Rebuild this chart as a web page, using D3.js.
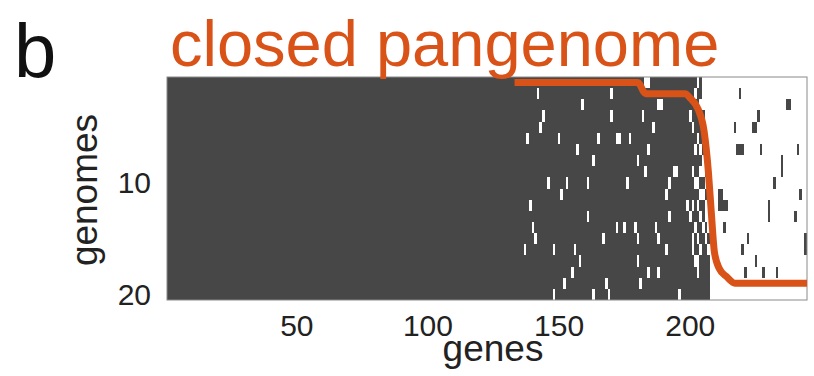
<!DOCTYPE html>
<html>
<head>
<meta charset="utf-8">
<script src="https://cdn.jsdelivr.net/npm/d3@7"></script>
<style>
  body { margin: 0; background: #fff; }
  svg { display: block; font-family: "Liberation Sans", Arial, sans-serif; }
</style>
</head>
<body>
<svg id="chart" width="814" height="376"></svg>
<script>
// presence / absence matrix: 20 genomes x 244 genes
const nGenes = 244;
const nGenomes = 20;
const cloudStart = 208; // genes from here on are mostly absent

const xTicks = [50, 100, 150, 200];
const yTicks = [10, 20];

// [gene, genome] cells that are absent inside the core/shell block
const absentCells = [
  [142, 2], [170, 2], [144, 4], [143, 5], [138, 6], [150, 6], [159, 3], [170, 4],
  [165, 6], [172, 6], [157, 7], [163, 8], [146, 10], [153, 10], [161, 10], [151, 11],
  [139, 12], [161, 13], [140, 14], [141, 15], [172, 14], [167, 15], [137, 16], [148, 16],
  [156, 16], [158, 17], [155, 18], [152, 19], [168, 19], [148, 20], [163, 20], [169, 20],
  [184, 1], [183, 1], [188, 3], [189, 3], [182, 4], [186, 5], [173, 6], [177, 6],
  [184, 7], [180, 8], [183, 9], [194, 9], [195, 9], [176, 10], [192, 10], [191, 11],
  [192, 13], [175, 14], [179, 14], [187, 14], [180, 15], [188, 15], [191, 16], [180, 17],
  [184, 18], [188, 18], [181, 19], [196, 20]
];

// columns where the core block breaks up
const transitionGenes = [199, 200, 201, 202, 203, 204, 205, 206, 207];
const transitionAbsent = [
  [12],
  [4, 13],
  [5, 9, 12, 15, 16],
  [2, 7, 10, 14, 17],
  [1, 6, 10, 12, 15, 17, 18],
  [3, 4, 7, 9, 11, 13, 16],
  [1, 2, 3, 5, 6, 8, 9, 11, 14],
  [1, 2, 3, 4, 5, 6, 7, 8, 10, 12, 13, 15],
  [1, 2, 3, 4, 5, 6, 7, 8, 9, 10, 11, 12, 13, 14, 16]
];

// [gene, genome] cells that are present inside the cloud block
const presentCells = [
  [219, 2], [237, 3], [238, 3], [226, 4], [224, 5], [225, 5], [217, 5], [218, 7],
  [219, 7], [220, 7], [227, 7], [241, 7], [235, 8], [235, 9], [232, 10], [242, 11],
  [211, 11], [212, 11], [211, 12], [212, 12], [213, 12], [214, 12], [230, 12], [230, 13],
  [240, 13], [213, 14], [222, 15], [244, 15], [244, 16], [220, 16], [225, 17], [228, 18],
  [233, 18], [221, 18]
];

// sorted gene frequency curve (genomes lacking the gene)
const curveGenes  = [133, 180, 183, 198, 200, 203, 205.3, 206.9, 208, 209.2, 211.1, 213.8, 217, 244.5];
const curveLevels = [1, 1, 2, 2, 2.4, 3.4, 5.4, 9, 12.6, 16.2, 17.7, 18.4, 19, 19];

const dark = "#464646";
const orange = "#d95319";

const svg = d3.select("#chart");

const defs = svg.append("defs");
defs.append("filter")
    .attr("id", "soft")
    .attr("x", "-2%").attr("y", "-2%")
    .attr("width", "104%").attr("height", "104%")
    .append("feGaussianBlur")
    .attr("stdDeviation", 0.7);

const x = d3.scaleLinear().domain([0.5, nGenes + 0.5]).range([167, 807]);
const y = d3.scaleLinear().domain([0.5, nGenomes + 0.5]).range([77, 300]);

// build the matrix
let cells = [];
const key = (g, r) => g + "_" + r;
const flip = new Set();
absentCells.forEach(d => flip.add(key(d[0], d[1])));
presentCells.forEach(d => flip.add(key(d[0], d[1])));
transitionGenes.forEach((g, i) => transitionAbsent[i].forEach(r => flip.add(key(g, r))));

for (let g = 1; g <= nGenes; g++) {
    for (let r = 1; r <= nGenomes; r++) {
        let present = g < cloudStart;
        if (flip.has(key(g, r))) present = !present;
        cells.push({ gene: g, genome: r, present: present });
    }
}

const heat = svg.append("g")
    .attr("class", "heat")
    .attr("filter", "url(#soft)");

heat.selectAll("rect")
    .data(cells.filter(d => d.present))
    .enter().append("rect")
    .attr("x", d => x(d.gene - 0.5))
    .attr("y", d => y(d.genome - 0.5))
    .attr("width", d => x(d.gene + 0.5) - x(d.gene - 0.5))
    .attr("height", d => y(d.genome + 0.5) - y(d.genome - 0.5))
    .attr("fill", dark)
    .attr("shape-rendering", "crispEdges");

// frame
svg.append("rect")
    .attr("x", x(0.5))
    .attr("y", y(0.5))
    .attr("width", x(nGenes + 0.5) - x(0.5))
    .attr("height", y(nGenomes + 0.5) - y(0.5))
    .attr("fill", "none")
    .attr("stroke", "#8a8a8a")
    .attr("stroke-width", 1);

// orange curve
const line = d3.line()
    .x((d, i) => x(curveGenes[i]))
    .y((d, i) => y(curveLevels[i]))
    .curve(d3.curveMonotoneX);

svg.append("path")
    .attr("d", line(curveGenes))
    .attr("fill", "none")
    .attr("stroke", orange)
    .attr("stroke-width", 7)
    .attr("stroke-linejoin", "round");

// axes labels
svg.selectAll(".xtick")
    .data(xTicks)
    .enter().append("text")
    .attr("class", "xtick")
    .attr("x", d => x(d))
    .attr("y", 336)
    .attr("text-anchor", "middle")
    .attr("font-size", 30)
    .attr("fill", "#222")
    .text(d => d);

svg.selectAll(".ytick")
    .data(yTicks)
    .enter().append("text")
    .attr("class", "ytick")
    .attr("x", 151)
    .attr("y", d => y(d) + 10.5)
    .attr("text-anchor", "end")
    .attr("font-size", 30)
    .attr("fill", "#222")
    .text(d => d);

svg.append("text")
    .attr("x", 493)
    .attr("y", 361)
    .attr("text-anchor", "middle")
    .attr("font-size", 37)
    .attr("fill", "#222")
    .text("genes");

svg.append("text")
    .attr("transform", "translate(97,190) rotate(-90)")
    .attr("text-anchor", "middle")
    .attr("font-size", 37)
    .attr("fill", "#222")
    .text("genomes");

svg.append("text")
    .attr("x", 170)
    .attr("y", 66)
    .attr("font-size", 65)
    .attr("fill", orange)
    .text("closed pangenome");

svg.append("text")
    .attr("x", 14)
    .attr("y", 77)
    .attr("font-size", 76)
    .attr("fill", "#111")
    .text("b");
</script>
</body>
</html>
